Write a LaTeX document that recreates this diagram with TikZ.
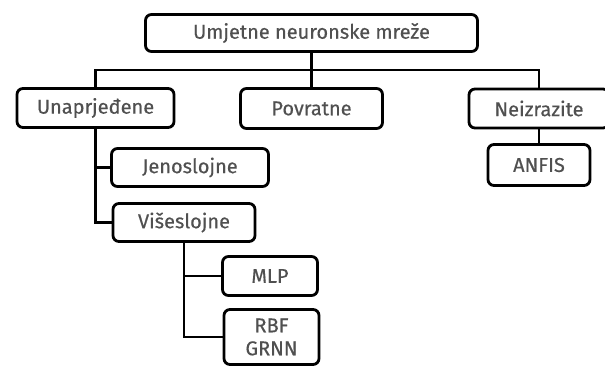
\documentclass[tikz,border=0pt]{standalone}
\usepackage{fontspec}
\setmainfont{Fira Sans}[FakeBold=0.4]
\usepackage{tikz}
\usetikzlibrary{calc}
\definecolor{txtgray}{HTML}{505050}

\begin{document}
\begin{tikzpicture}[x=1pt,y=-1pt,
        box/.style={draw,line width=2.8pt,rounded corners=6pt,fill=white,text=txtgray,
          font=\fontsize{20}{23}\selectfont,inner sep=0pt,align=center},
        conn/.style={line width=2.6pt}]
        \useasboundingbox (0,0) rectangle (605,369);

        \node[box,minimum width=332,minimum height=37] (root) at (311.5,33) {Umjetne neuronske mreže};

        \node[box,minimum width=157,minimum height=39] (una) at (95.5,108) {Unaprjeđene};
        \node[box,minimum width=142,minimum height=40] (pov) at (311.5,108.5) {Povratne};
        \node[box,minimum width=140,minimum height=39] (nei) at (539,108.5) {Neizrazite};

        \node[box,minimum width=157,minimum height=38] (jen) at (190,167.5) {Jenoslojne};
        \node[box,minimum width=142,minimum height=38] (vis) at (184,222.5) {Višeslojne};

        \node[box,minimum width=95,minimum height=39] (mlp) at (270,276) {MLP};
        \node[box,minimum width=95,minimum height=55] (rbf) at (271.5,337) {RBF\\GRNN};

        \node[box,minimum width=102,minimum height=41] (anfis) at (539,165) {ANFIS};

        \coordinate (bus) at (0,70);
        \draw[conn] (root.south) -- (pov.north);
        \draw[conn] (una.north) |- (bus -| nei.north) -- (nei.north);

        \draw[conn] (una.south) |- (vis.west);
        \draw[conn] (una.south |- jen.west) -- (jen.west);

        \draw[conn] (vis.south) |- (rbf.west);
        \draw[conn] (vis.south |- mlp.west) -- (mlp.west);

        \draw[conn] (nei.south) -- (anfis.north);
      \end{tikzpicture}
\end{document}
